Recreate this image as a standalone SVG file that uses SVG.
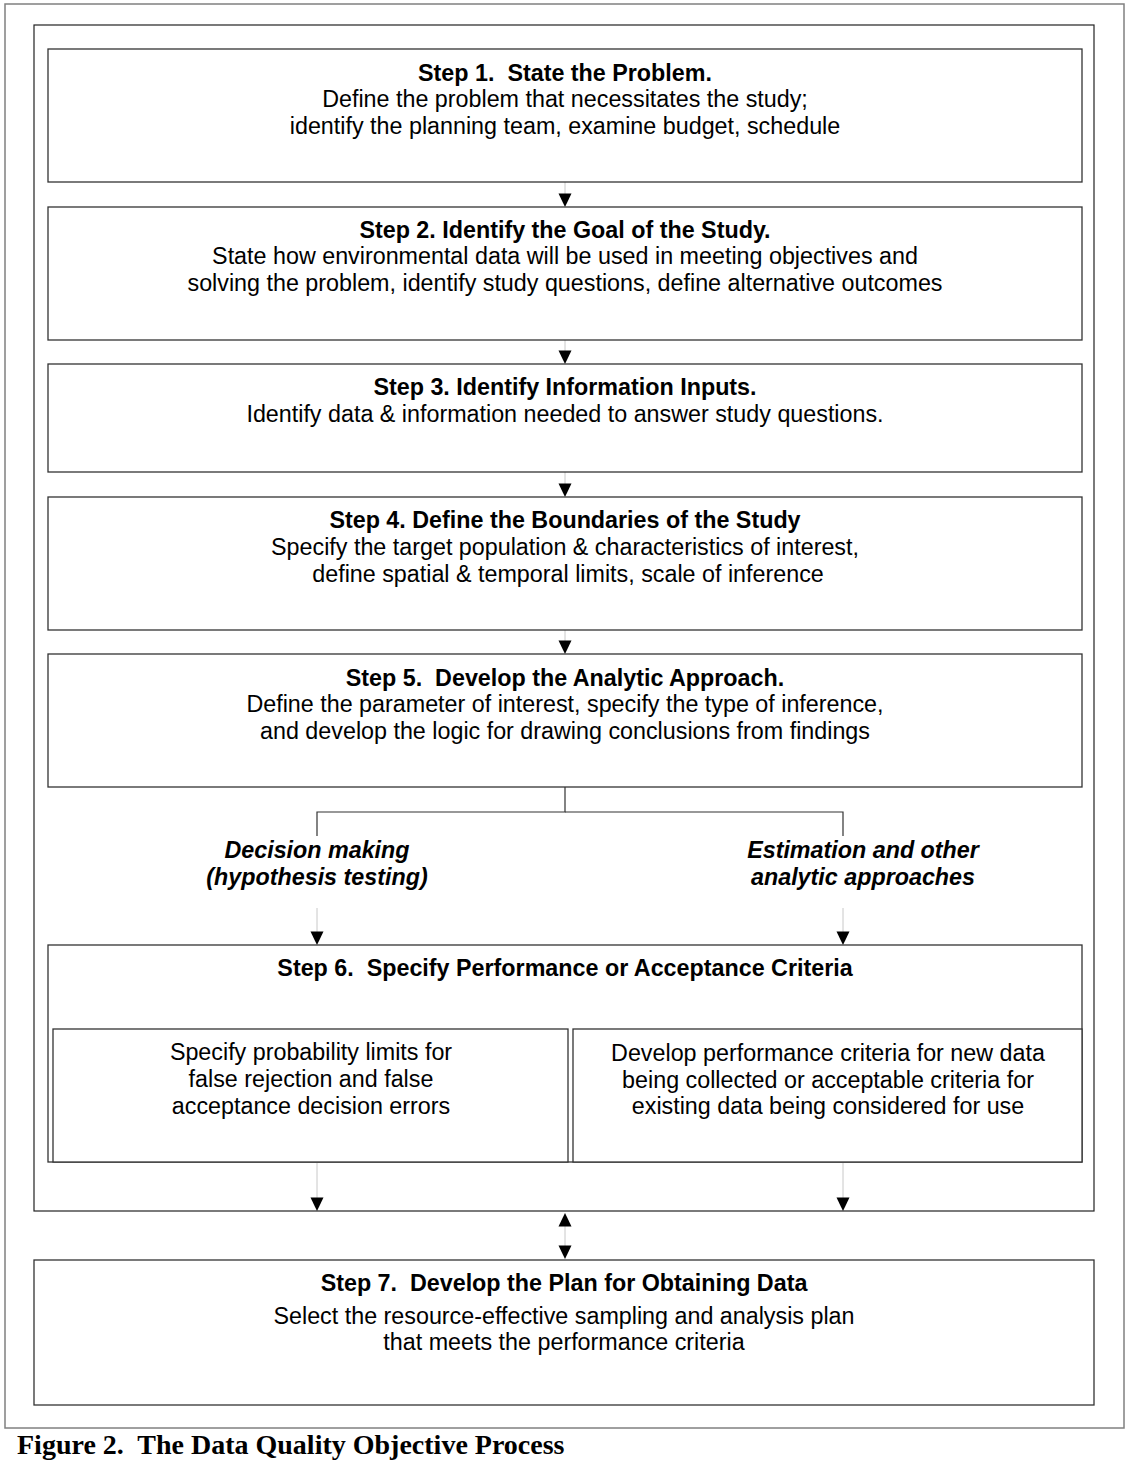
<svg xmlns="http://www.w3.org/2000/svg" width="1128" height="1472" viewBox="0 0 1128 1472">
<style>
.frame{fill:none;stroke:#808080;stroke-width:1.5}
.cont{fill:none;stroke:#222;stroke-width:1.2}
.box{fill:#fff;stroke:#333;stroke-width:1.3}
.t{font-family:"Liberation Sans",Arial,sans-serif;font-size:23.3px;fill:#000;text-anchor:middle}
.b{font-weight:bold}
.i{font-weight:bold;font-style:italic}
.cap{font-family:"Liberation Serif","Times New Roman",serif;font-size:28px;font-weight:bold;fill:#000}
.ln{fill:none;stroke:#c8c8c8;stroke-width:1}
.br{fill:none;stroke:#333;stroke-width:1.2}
.ah{fill:#000}
</style>
<rect width="1128" height="1472" fill="#fff"/>
<rect class="frame" x="5" y="4" width="1119" height="1424"/>
<rect class="cont" x="34" y="25" width="1060" height="1186"/>

<g id="connectors">
<line class="ln" x1="565" y1="182" x2="565" y2="195"/>
<polygon class="ah" points="558.5,193.5 571.5,193.5 565,207"/>
<line class="ln" x1="565" y1="340" x2="565" y2="352"/>
<polygon class="ah" points="558.5,350.5 571.5,350.5 565,364"/>
<line class="ln" x1="565" y1="472" x2="565" y2="485"/>
<polygon class="ah" points="558.5,483.5 571.5,483.5 565,497"/>
<line class="ln" x1="565" y1="630" x2="565" y2="642"/>
<polygon class="ah" points="558.5,640.5 571.5,640.5 565,654"/>
<polyline class="br" points="565,787 565,812 317,812 317,836"/>
<polyline class="br" points="565,812 843,812 843,836"/>
<line class="ln" x1="317" y1="908" x2="317" y2="933"/>
<polygon class="ah" points="310.5,931.5 323.5,931.5 317,945"/>
<line class="ln" x1="843" y1="908" x2="843" y2="933"/>
<polygon class="ah" points="836.5,931.5 849.5,931.5 843,945"/>
<line class="ln" x1="317" y1="994" x2="317" y2="1017"/>
<polygon class="ah" points="310.5,1015.5 323.5,1015.5 317,1029"/>
<line class="ln" x1="843" y1="994" x2="843" y2="1017"/>
<polygon class="ah" points="836.5,1015.5 849.5,1015.5 843,1029"/>
<line class="ln" x1="317" y1="1163" x2="317" y2="1199"/>
<polygon class="ah" points="310.5,1197.5 323.5,1197.5 317,1211"/>
<line class="ln" x1="843" y1="1163" x2="843" y2="1199"/>
<polygon class="ah" points="836.5,1197.5 849.5,1197.5 843,1211"/>
<line class="ln" x1="565" y1="1225" x2="565" y2="1247"/>
<polygon class="ah" points="558.5,1226.5 571.5,1226.5 565,1213"/>
<polygon class="ah" points="558.5,1245.5 571.5,1245.5 565,1259"/>
</g>

<g id="step1">
<rect class="box" x="48" y="49" width="1034" height="133"/>
<text class="t b" x="565" y="81" xml:space="preserve">Step 1.  State the Problem.</text>
<text class="t" x="565" y="107">Define the problem that necessitates the study;</text>
<text class="t" x="565" y="134">identify the planning team, examine budget, schedule</text>
</g>

<g id="step2">
<rect class="box" x="48" y="207" width="1034" height="133"/>
<text class="t b" x="565" y="238">Step 2. Identify the Goal of the Study.</text>
<text class="t" x="565" y="264">State how environmental data will be used in meeting objectives and</text>
<text class="t" x="565" y="291">solving the problem, identify study questions, define alternative outcomes</text>
</g>

<g id="step3">
<rect class="box" x="48" y="364" width="1034" height="108"/>
<text class="t b" x="565" y="395">Step 3. Identify Information Inputs.</text>
<text class="t" x="565" y="422">Identify data &amp; information needed to answer study questions.</text>
</g>

<g id="step4">
<rect class="box" x="48" y="497" width="1034" height="133"/>
<text class="t b" x="565" y="528">Step 4. Define the Boundaries of the Study</text>
<text class="t" x="565" y="555">Specify the target population &amp; characteristics of interest,</text>
<text class="t" x="568" y="582">define spatial &amp; temporal limits, scale of inference</text>
</g>

<g id="step5">
<rect class="box" x="48" y="654" width="1034" height="133"/>
<text class="t b" x="565" y="686" xml:space="preserve">Step 5.  Develop the Analytic Approach.</text>
<text class="t" x="565" y="712">Define the parameter of interest, specify the type of inference,</text>
<text class="t" x="565" y="739">and develop the logic for drawing conclusions from findings</text>
</g>

<g id="label-decision">
<text class="t i" x="317" y="858">Decision making</text>
<text class="t i" x="317" y="885">(hypothesis testing)</text>
</g>

<g id="label-estimation">
<text class="t i" x="863" y="858">Estimation and other</text>
<text class="t i" x="863" y="885">analytic approaches</text>
</g>

<g id="step6">
<rect class="box" x="48" y="945" width="1034" height="217"/>
<text class="t b" x="565" y="976" xml:space="preserve">Step 6.  Specify Performance or Acceptance Criteria</text>
</g>

<g id="step6a">
<rect class="box" x="53" y="1029" width="515" height="133"/>
<text class="t" x="311" y="1060">Specify probability limits for</text>
<text class="t" x="311" y="1087">false rejection and false</text>
<text class="t" x="311" y="1114">acceptance decision errors</text>
</g>

<g id="step6b">
<rect class="box" x="573" y="1029" width="509" height="133"/>
<text class="t" x="828" y="1061">Develop performance criteria for new data</text>
<text class="t" x="828" y="1088">being collected or acceptable criteria for</text>
<text class="t" x="828" y="1114">existing data being considered for use</text>
</g>

<g id="step7">
<rect class="box" x="34" y="1260" width="1060" height="145"/>
<text class="t b" x="564" y="1291" xml:space="preserve">Step 7.  Develop the Plan for Obtaining Data</text>
<text class="t" x="564" y="1324">Select the resource-effective sampling and analysis plan</text>
<text class="t" x="564" y="1350">that meets the performance criteria</text>
</g>

<text class="cap" x="17" y="1454" xml:space="preserve">Figure 2.  The Data Quality Objective Process</text>
</svg>
